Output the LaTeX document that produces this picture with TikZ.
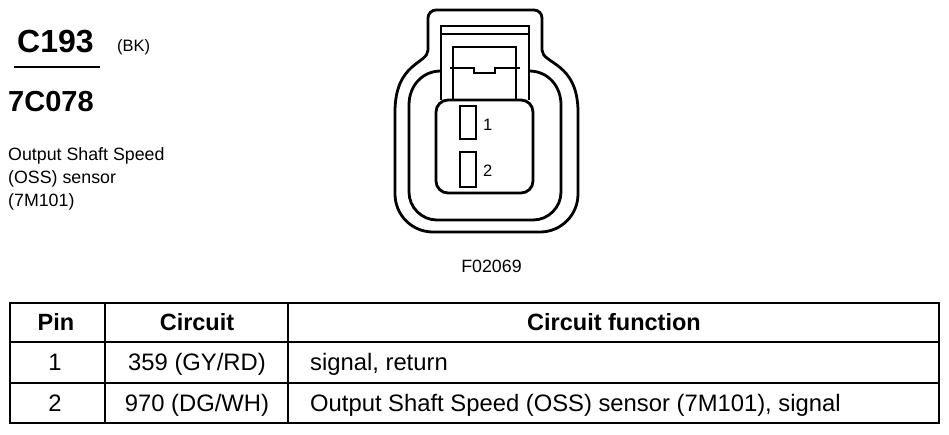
\documentclass[tikz,border=0pt]{standalone}
\usepackage{fontspec}
\setmainfont{Liberation Sans}

\begin{document}
\begin{tikzpicture}[x=1pt, y=-1pt,
  shell/.style={line width=2.8pt},
  thin/.style={line width=2.4pt},
  rule/.style={line width=2.5pt},
  cell/.style={inner sep=0pt, anchor=base, font=\fontsize{23.8}{28}\selectfont},
  head/.style={cell, font=\fontsize{23.5}{28}\selectfont\bfseries},
  note/.style={inner sep=0pt, anchor=base west, font=\fontsize{17.8}{23}\selectfont}]
\useasboundingbox (0,0) rectangle (949,434);

% title block
\node[inner sep=0pt, anchor=base west, font=\fontsize{32}{36}\selectfont\bfseries] (conn) at (17,52) {C193};
\node[inner sep=0pt, anchor=base west, font=\fontsize{16.5}{18}\selectfont] (colour) at (117,51) {(BK)};
\draw[rule] (14,67) -- (100,67);
\node[inner sep=0pt, anchor=base west, font=\fontsize{29}{34}\selectfont\bfseries] (part) at (8,111) {7C078};
\node[note] (desca) at (8,160) {Output Shaft Speed};
\node[note] (descb) at (8,183) {(OSS) sensor};
\node[note] (descc) at (8,206) {(7M101)};

% connector face
\draw[shell] (436,10) -- (534,10) .. controls (538.4,10) and (542,13.6) .. (542,18) -- (542,50)
  .. controls (542,64) and (578,62) .. (578,112) -- (578,194)
  .. controls (578,215) and (561,232) .. (540,232) -- (433,232)
  .. controls (412,232) and (395,215) .. (395,194) -- (395,112)
  .. controls (395,62) and (428,64) .. (428,50) -- (428,18)
  .. controls (428,13.6) and (431.6,10) .. (436,10) -- cycle;
\draw[shell] (441,71) .. controls (422,71) and (409,86) .. (409,105) -- (409,192)
  .. controls (409,207.4) and (421.6,220) .. (437,220) -- (533,220)
  .. controls (548.4,220) and (561,207.4) .. (561,192) -- (561,105)
  .. controls (561,86) and (548,71) .. (529,71);
\draw[shell] (441,100) -- (441,26) -- (529,26) -- (529,100);
\draw[thin] (441,34) -- (529,34);
\draw[shell] (453,100) -- (453,47) -- (516,47) -- (516,100);
\draw[thin] (450,68) -- (474,68) -- (474,73) -- (495,73) -- (495,68) -- (520,68);
\draw[shell, rounded corners=12pt] (436,100) rectangle (533,193);
\draw[thin] (460,106) rectangle (476,139);
\draw[thin] (460,152) rectangle (476,187);
\node[note, anchor=west, font=\fontsize{16.5}{20}\selectfont] (pina) at (483,125) {1};
\node[note, anchor=west, font=\fontsize{16.5}{20}\selectfont] (pinb) at (483,171) {2};
\node[note, anchor=base] (fig) at (491.5,272) {F02069};

% pin table
\draw[rule] (10,303) rectangle (939,423);
\draw[rule] (10,342) -- (939,342);
\draw[rule] (10,383) -- (939,383);
\draw[rule] (105,303) -- (105,423);
\draw[rule] (288,303) -- (288,423);
\node[head] (hpin) at (56,330.5) {Pin};
\node[head] (hcirc) at (197,330.5) {Circuit};
\node[head] (hfunc) at (614,330.5) {Circuit function};
\node[cell] (pin1) at (55,370.5) {1};
\node[cell] (circ1) at (197,370.5) {359 (GY/RD)};
\node[cell, anchor=base west] (func1) at (310,370.5) {signal, return};
\node[cell] (pin2) at (55,411.5) {2};
\node[cell] (circ2) at (197,411.5) {970 (DG/WH)};
\node[cell, anchor=base west] (func2) at (310,411.5) {Output Shaft Speed (OSS) sensor (7M101), signal};
\end{tikzpicture}
\end{document}
